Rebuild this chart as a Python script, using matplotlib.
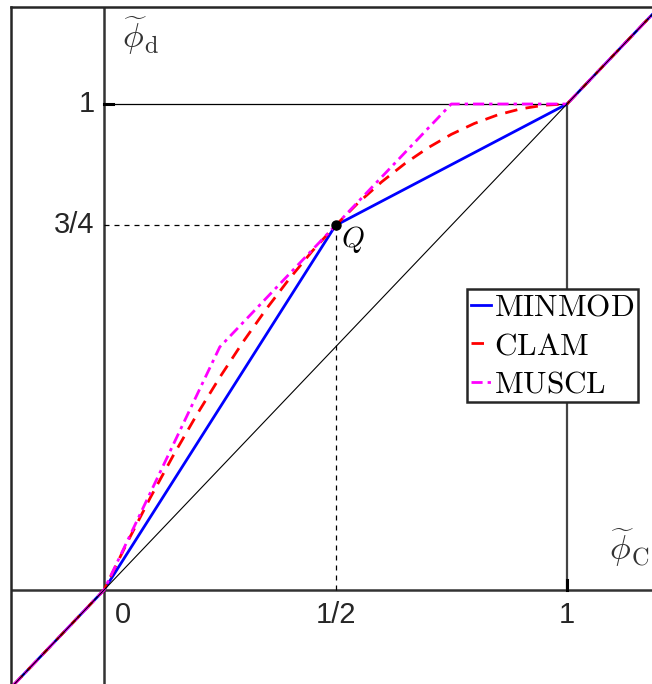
import numpy as np
import matplotlib
matplotlib.use("Agg")
import matplotlib.pyplot as plt

plt.rcParams['mathtext.fontset'] = 'cm'

# normalised face value vs normalised upwind value (NVD)
phi_c_minmod = [-0.2, 0.0, 0.5, 1.0, 1.2]
phi_d_minmod = [-0.2, 0.0, 0.75, 1.0, 1.2]

phi_c_clam = [-0.2, 0.0, 0.05, 0.1, 0.15, 0.2, 0.25, 0.3, 0.35, 0.4, 0.45, 0.5,
              0.55, 0.6, 0.65, 0.7, 0.75, 0.8, 0.85, 0.9, 0.95, 1.0, 1.2]
phi_d_clam = [-0.2, 0.0, 0.0975, 0.19, 0.2775, 0.36, 0.4375, 0.51, 0.5775, 0.64, 0.6975, 0.75,
              0.7975, 0.84, 0.8775, 0.91, 0.9375, 0.96, 0.9775, 0.99, 0.9975, 1.0, 1.2]

phi_c_muscl = [-0.2, 0.0, 0.25, 0.75, 1.0, 1.2]
phi_d_muscl = [-0.2, 0.0, 0.5, 1.0, 1.0, 1.2]

point_q = (0.5, 0.75)
xtick_vals = [0.5, 1.0]
xtick_text = ["1/2", "1"]
ytick_vals = [0.75, 1.0]
ytick_text = ["3/4", "1"]

fig = plt.figure(figsize=(6.52, 6.84), dpi=100)
ax = fig.add_axes([11.4 / 652, -3.2 / 684, 648.2 / 652, 680.4 / 684])
ax.set_xlim(-0.2, 1.2)
ax.set_ylim(-0.2, 1.2)
ax.set_xticks([])
ax.set_yticks([])
for s in ax.spines.values():
    s.set_linewidth(1.8)
    s.set_color('#262626')

axc = '#333333'
ax.axhline(0, color=axc, lw=1.8, zorder=1)
ax.axvline(0, color=axc, lw=1.8, zorder=1)
ax.plot([1, 1], [0, 1], color='#444444', lw=1.6, zorder=1)
ax.plot([0, 1], [1, 1], color='black', lw=0.9, zorder=1)

# little tick marks
ax.plot([0, 0.02], [1, 1], color='black', lw=2.2, zorder=2)
ax.plot([1, 1], [0, 0.02], color='black', lw=2.2, zorder=2)

# dashed guides to Q
ax.plot([0, point_q[0]], [point_q[1], point_q[1]], color='black', lw=0.9, ls=(0, (4, 4)), zorder=1)
ax.plot([point_q[0], point_q[0]], [0, point_q[1]], color='black', lw=0.9, ls=(0, (4, 4)), zorder=1)

l1, = ax.plot(phi_c_minmod, phi_d_minmod, color='#0000ff', lw=2.0, zorder=3, label=r'$\mathrm{MINMOD}$')
l2, = ax.plot(phi_c_clam, phi_d_clam, color='#ff0000', lw=2.0, ls=(0, (4.5, 3)), zorder=4, label=r'$\mathrm{CLAM}$')
l3, = ax.plot(phi_c_muscl, phi_d_muscl, color='#ff00ff', lw=2.0, ls=(0, (4, 1.8, 1.2, 1.8)), zorder=5, label=r'$\mathrm{MUSCL}$')

ax.plot([-0.2, 1.2], [-0.2, 1.2], color='black', lw=0.8, zorder=6)

ax.plot(*point_q, 'o', color='black', ms=6.5, zorder=7)
ax.text(0.512, 0.722, r'$Q$', fontsize=21, ha='left', va='center')

# tick labels
tfont = dict(family='Liberation Sans', fontsize=21, color='#262626')
ax.text(0.04, -0.052, "0", ha='center', va='center', **tfont)
for v, t in zip(xtick_vals, xtick_text):
    ax.text(v, -0.052, t, ha='center', va='center', **tfont)
for v, t in zip(ytick_vals, ytick_text):
    ax.text(-0.02, v, t, ha='right', va='center', **tfont)

ax.text(0.078, 1.14, r'$\widetilde{\phi}_{\mathrm{d}}$', fontsize=25, ha='center', va='center', color='#333333')
ax.text(1.135, 0.086, r'$\widetilde{\phi}_{\mathrm{C}}$', fontsize=25, ha='center', va='center', color='#333333')

leg = ax.legend(handles=[l1, l2, l3], loc='upper left',
                bbox_to_anchor=(467 / 652, 1 - 289 / 684), bbox_transform=fig.transFigure,
                borderaxespad=0, fontsize=22.5, handlelength=0.65, handletextpad=0.1,
                borderpad=0.12, labelspacing=0.3, fancybox=False, framealpha=1)
leg.get_frame().set_edgecolor('#262626')
leg.get_frame().set_linewidth(1.8)

fig.savefig("out.png", dpi=100)
